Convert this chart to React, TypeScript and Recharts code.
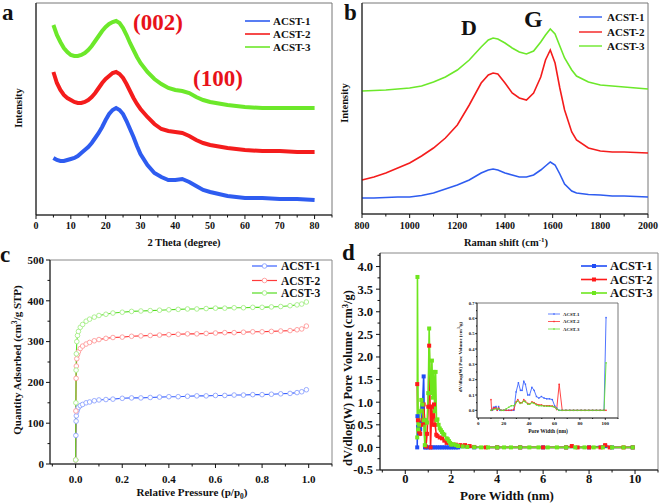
import React from 'react';
import { LineChart, Line, XAxis, YAxis, ReferenceArea } from 'recharts';

const W = 661;
const H = 503;
const FONT = '"Liberation Serif", "Times New Roman", serif';
const BLUE = '#2e5cf0';
const RED = '#f41c1c';
const GREEN = '#6ce82a';

// ---------- (a) XRD ----------
const xrdAngle = [5,6,7,8,9,10,11,12,13,14,15,16,17,18,19,20,21,22,23,24,25,26,27,28,29,30,32,34,36,38,40,42,44,46,48,50,55,60,65,70,75,80];
const xrd1 = [57,55,54,54,55,56,57,59,62,65,68,72,77,82,88,95,101,105,107,105,101,94,86,78,69,61,50,42,38,35,35,36,33,29,25,23,19,17,17,16,16,15];
const xrd2 = [143,132,125,120,117,115,113,112,112,113,115,118,122,127,132,136,139,142,143,141,137,131,124,117,111,106,98,91,86,84,83,82,79,75,72,70,67,65,64,64,63,63];
const xrd3 = [190,180,173,167,163,160,159,159,160,162,165,169,174,179,184,188,191,193,194,192,187,180,172,165,158,152,143,136,131,127,125,124,122,118,115,113,110,108,107,107,107,107];
const xrdTicks = [0,5,10,15,20,25,30,35,40,45,50,55,60,65,70,75,80,85];
const xrdMajor = [0,10,20,30,40,50,60,70,80];

// ---------- (b) Raman ----------
const ramanShift = [800,850,900,950,1000,1050,1100,1150,1200,1250,1300,1330,1350,1370,1400,1430,1460,1490,1520,1550,1570,1590,1610,1630,1650,1680,1700,1750,1800,1850,1900,1950,2000];
const raman1 = [16,16,16.5,17,17,18.5,21,25,29,34,41,44,45,44,41,39,37,37,39,44,48,52,49,40,30,23,21,19.5,19,18,18,17.5,17];
const raman2 = [34,37,41,46,51,58,66,76,89,109,131,139,141,140,131,121,116,114,121,137,154,164,151,126,104,82,74,66,63,62,62,61.5,61];
const raman3 = [123,123.5,124,125,126,128,132,137,144,154,167,174,176,175,171,166,162,160,163,172,179,185,180,168,156,144,138,132,129,128,127,126,125];
const ramanTicks = [800,900,1000,1100,1200,1300,1400,1500,1600,1700,1800,1900,2000];
const ramanMajor = [800,1000,1200,1400,1600,1800,2000];

// ---------- (c) N2 isotherms ----------
const pressure = [0.0003,0.001,0.002,0.003,0.005,0.008,0.012,0.02,0.03,0.045,0.06,0.08,0.1,0.13,0.16,0.2,0.24,0.28,0.32,0.36,0.4,0.44,0.48,0.52,0.56,0.6,0.64,0.68,0.72,0.76,0.8,0.84,0.88,0.92,0.95,0.97,0.99];
const iso1 = [10,70,105,118,128,134,139,143,146,150,152,155,157,158,159,161,162,162,163,164,165,165,166,167,167,168,168,169,169,170,170,171,172,173,175,177,182];
const iso2 = [10,130,210,240,258,268,275,283,289,294,298,302,305,308,310,311,313,314,315,316,317,318,319,319,320,321,322,322,323,324,324,325,326,327,329,331,338];
const iso3 = [10,150,230,270,300,315,325,335,342,350,355,360,364,367,370,372,374,375,376,377,378,379,380,380,381,382,382,383,383,384,384,385,386,388,390,392,397];
const pTicks = [-0.1,0,0.1,0.2,0.3,0.4,0.5,0.6,0.7,0.8,0.9,1.0,1.1];
const pMajor = [0,0.2,0.4,0.6,0.8,1.0];
const qTicks = [0,50,100,150,200,250,300,350,400,450,500];
const qMajor = [0,100,200,300,400,500];

// ---------- (d) pore size distribution ----------
const pw1 = [0.52,0.53,0.56,0.6,0.65,0.7,0.75,0.8,0.83,0.86,0.9,1.0,1.1,1.2,1.3,1.4,1.5,1.6,1.7,1.8,1.9,2.0,2.1,2.2,2.3,3.0,4.0,5.0,6.0,7.0,8.0,8.7,9.0,9.9];
const pv1 = [0,0.69,0.45,0.3,0.4,0.55,0.9,1.57,0.6,0,0,0,0,0,0,0,0,0,0,0,0,0,0,0,0,0,0,0,0,0,0,0.03,0,0];
const pw2 = [0.52,0.55,0.6,0.65,0.7,0.75,0.8,0.85,0.9,0.95,1.0,1.04,1.08,1.1,1.15,1.2,1.25,1.3,1.35,1.4,1.5,1.6,1.7,1.8,1.9,2.0,2.2,2.4,2.6,2.8,3.0,3.5,4.0,5.0,6.0,7.0,7.25,7.5,8.0,8.5,8.7,8.9,9.5,9.9];
const pv2 = [1.4,0.6,0.35,0.3,0.5,0.6,0.95,0.55,0.02,0.3,0.9,2.25,0.9,0,0.9,0.5,0.95,0.5,0.28,0.25,0.22,0.2,0.15,0.1,0.1,0.07,0.06,0.05,0.05,0.03,0.01,0,0,0,0,0,0.03,0,0,0,0.05,0,0,0];
const pw3 = [0.52,0.53,0.56,0.6,0.65,0.7,0.75,0.8,0.85,0.9,0.95,1.0,1.04,1.08,1.12,1.16,1.2,1.24,1.28,1.32,1.36,1.4,1.45,1.5,1.55,1.6,1.65,1.7,1.8,1.85,1.9,1.95,2.0,2.1,2.2,2.3,2.5,2.7,3.0,3.3,3.6,4.0,4.3,4.6,5.0,5.4,5.8,6.2,6.6,7.0,7.4,7.8,8.2,8.6,9.0,9.5,9.9];
const pv3 = [0.22,3.77,0.4,0.5,0.8,1.05,0.95,0.6,0.05,0.6,0.55,1.2,2.63,1.65,1.2,1.92,1.1,1.67,0.8,1.67,0.6,0.62,0.5,0.42,0.38,0.34,0.3,0.28,0.2,0.18,0.14,0.1,0.06,0.07,0.05,0.03,0.02,0.01,0.005,0,0,0,0,0,0,0,0,0,0,0,0,0,0,0,0,0,0];
const pwTicks = [-1,0,1,2,3,4,5,6,7,8,9,10,11];
const pwMajor = [0,2,4,6,8,10];
const pvTicks = [-0.5,-0.25,0,0.25,0.5,0.75,1,1.25,1.5,1.75,2,2.25,2.5,2.75,3,3.25,3.5,3.75,4,4.25];
const pvMajor = [-0.5,0,0.5,1,1.5,2,2.5,3,3.5,4];

// ---------- (d) inset ----------
const iw1 = [10,11,12,13,14,15,16,17,18,20,22,24,26,28,29.8,31.6,33.2,34.5,35.8,37.1,38.9,40.4,42.2,44,45.8,47.7,49.7,51.8,53.9,56,58.3,60.1,61.7,63.5,66,69,72,75,78,81,84,87,90,93,96,99,100.6];
const iv1 = [0,0,0.02,0.02,0.025,0,0.025,0,0,0,0,0,0,0,0.12,0.18,0.13,0.13,0.19,0.17,0.1,0.1,0.15,0.13,0.09,0.08,0.09,0.08,0.075,0.075,0.07,0.03,0.015,0,0,0,0,0,0,0,0,0,0,0,0,0,0.605];
const iw2 = [10,10.5,12,13,14,15,16,18,20,22,24,26,28,29.8,31.1,32.9,34.5,35.8,37.1,38.9,40.4,42.2,44,45.8,47.7,49.7,51.8,53.9,56,58.3,60.1,61.7,63.7,66.1,69,72,75,78,81,84,87,90,93,96,99,100.6];
const iv2 = [0.07,0,0.015,0.015,0.015,0,0.015,0,0,0,0,0,0.005,0.055,0.07,0.05,0.05,0.07,0.06,0.045,0.04,0.055,0.05,0.04,0.035,0.035,0.03,0.03,0.03,0.028,0.02,0.005,0.17,0,0,0,0,0,0,0,0,0,0,0,0,0];
const iw3 = [10,12,14,16,18,20,22,24,26,28,29.8,31.1,32.9,34.5,35.8,37.1,38.9,40.4,42.2,44,45.8,47.7,49.7,51.8,53.9,56,58.3,60.1,61.7,63.5,66,69,72,75,78,81,84,87,90,93,96,99,100.6];
const iv3 = [0,0.005,0.01,0.008,0,0,0.01,0.02,0.03,0.03,0.05,0.06,0.045,0.05,0.06,0.055,0.04,0.04,0.05,0.045,0.035,0.03,0.03,0.028,0.027,0.026,0.025,0.02,0.01,0,0,0,0,0,0,0,0,0,0,0,0,0,0.31];
const iwTicks = [0,10,20,30,40,50,60,70,80,90,100,110];
const iwMajor = [0,20,40,60,80,100];
const ivTicks = [0,0.05,0.1,0.15,0.2,0.25,0.3,0.35,0.4,0.45,0.5,0.55,0.6,0.65,0.7];
const ivMajor = [0,0.1,0.2,0.3,0.4,0.5,0.6,0.7];

const legendNames = ['ACST-1', 'ACST-2', 'ACST-3'];

const pairs = (xs: number[], ys: number[]) => xs.map((x, i) => ({ x, y: ys[i] }));

const isMajor = (arr: number[], v: number) => arr.some((m) => Math.abs(m - v) < 1e-6);

type TickOpt = { majors: number[]; len: number; minorLen: number; fs: number; off: number; fmt: (v: number) => string };

const xTick = (o: TickOpt) => (p: any) => {
  const v = p.payload.value;
  const maj = isMajor(o.majors, v);
  return (
    <g>
      <line x1={p.x} x2={p.x} y1={p.y} y2={p.y + (maj ? o.len : o.minorLen)} stroke="#111" strokeWidth={1} />
      {maj && (
        <text x={p.x} y={p.y + o.off} textAnchor="middle" fontSize={o.fs} fontWeight="bold" fontFamily={FONT} fill="#111">
          {o.fmt(v)}
        </text>
      )}
    </g>
  );
};

const yTick = (o: TickOpt) => (p: any) => {
  const v = p.payload.value;
  const maj = isMajor(o.majors, v);
  return (
    <g>
      <line x1={p.x} x2={p.x - (maj ? o.len : o.minorLen)} y1={p.y} y2={p.y} stroke="#111" strokeWidth={1} />
      {maj && (
        <text x={p.x - o.off} y={p.y} dy="0.35em" textAnchor="end" fontSize={o.fs} fontWeight="bold" fontFamily={FONT} fill="#111">
          {o.fmt(v)}
        </text>
      )}
    </g>
  );
};

const SquareDot = (p: any) => {
  if (p.cx == null || p.cy == null) return null;
  const s = p.size || 4;
  return <rect x={p.cx - s / 2} y={p.cy - s / 2} width={s} height={s} fill={p.color} />;
};

const margins = (x0: number, y0: number, x1: number, y1: number) => ({
  left: x0 - 1,
  top: y0,
  right: W - x1,
  bottom: H - y1 - 1,
});

const layer: React.CSSProperties = { position: 'absolute', left: 0, top: 0 };

function PanelA() {
  const d1 = pairs(xrdAngle, xrd1);
  const d2 = pairs(xrdAngle, xrd2);
  const d3 = pairs(xrdAngle, xrd3);
  return (
    <div style={layer}>
      <LineChart width={W} height={H} margin={margins(36, 3, 332, 215)}>
        <XAxis type="number" dataKey="x" domain={[0, 85]} ticks={xrdTicks} interval={0} height={1} tickSize={0} tickMargin={0}
          tickLine={false} axisLine={{ stroke: '#111' }} allowDataOverflow
          tick={xTick({ majors: xrdMajor, len: 4, minorLen: 2.5, fs: 10, off: 14, fmt: (v) => String(v) })} />
        <YAxis type="number" domain={[0, 212]} width={1} tick={false} tickLine={false} axisLine={{ stroke: '#111' }} />
        <ReferenceArea x1={0} x2={85} y1={0} y2={212} fill="none" stroke="#777" strokeWidth={1} />
        <Line data={d1} dataKey="y" stroke={BLUE} strokeWidth={4} dot={false} isAnimationActive={false} />
        <Line data={d2} dataKey="y" stroke={RED} strokeWidth={4} dot={false} isAnimationActive={false} />
        <Line data={d3} dataKey="y" stroke={GREEN} strokeWidth={4} dot={false} isAnimationActive={false} />
      </LineChart>
    </div>
  );
}

function PanelB() {
  const d1 = pairs(ramanShift, raman1);
  const d2 = pairs(ramanShift, raman2);
  const d3 = pairs(ramanShift, raman3);
  return (
    <div style={layer}>
      <LineChart width={W} height={H} margin={margins(362, 3, 648, 214)}>
        <XAxis type="number" dataKey="x" domain={[800, 2000]} ticks={ramanTicks} interval={0} height={1} tickSize={0} tickMargin={0}
          tickLine={false} axisLine={{ stroke: '#111' }}
          tick={xTick({ majors: ramanMajor, len: 4, minorLen: 2.5, fs: 10, off: 15, fmt: (v) => String(v) })} />
        <YAxis type="number" domain={[0, 211]} width={1} tick={false} tickLine={false} axisLine={{ stroke: '#111' }} />
        <ReferenceArea x1={800} x2={2000} y1={0} y2={211} fill="none" stroke="#777" strokeWidth={1} />
        <Line data={d1} dataKey="y" stroke={BLUE} strokeWidth={1.6} dot={false} isAnimationActive={false} />
        <Line data={d2} dataKey="y" stroke={RED} strokeWidth={1.6} dot={false} isAnimationActive={false} />
        <Line data={d3} dataKey="y" stroke={GREEN} strokeWidth={1.6} dot={false} isAnimationActive={false} />
      </LineChart>
    </div>
  );
}

function PanelC() {
  const d1 = pairs(pressure, iso1);
  const d2 = pairs(pressure, iso2);
  const d3 = pairs(pressure, iso3);
  const dot = (c: string) => ({ r: 2.3, stroke: c, strokeWidth: 0.9, fill: '#fff' });
  return (
    <div style={layer}>
      <LineChart width={W} height={H} margin={margins(50, 260, 332, 464)}>
        <XAxis type="number" dataKey="x" domain={[-0.11, 1.1]} ticks={pTicks} interval={0} height={1} tickSize={0} tickMargin={0}
          tickLine={false} axisLine={{ stroke: '#111' }} allowDataOverflow
          tick={xTick({ majors: pMajor, len: 4, minorLen: 2.5, fs: 11, off: 19, fmt: (v) => v.toFixed(1) })} />
        <YAxis type="number" domain={[0, 500]} ticks={qTicks} interval={0} width={1} tickSize={0} tickMargin={0}
          tickLine={false} axisLine={{ stroke: '#111' }}
          tick={yTick({ majors: qMajor, len: 4, minorLen: 2.5, fs: 11, off: 6, fmt: (v) => String(v) })} />
        <ReferenceArea x1={-0.11} x2={1.1} y1={0} y2={500} fill="none" stroke="#888" strokeWidth={1} />
        <Line data={d1} dataKey="y" stroke="#3a62ff" strokeWidth={1.1} dot={dot('#8ea4ff')} isAnimationActive={false} />
        <Line data={d2} dataKey="y" stroke="#ff3a3a" strokeWidth={1.1} dot={dot('#ff9a9a')} isAnimationActive={false} />
        <Line data={d3} dataKey="y" stroke="#55dd22" strokeWidth={1.1} dot={dot('#a6ee88')} isAnimationActive={false} />
      </LineChart>
    </div>
  );
}

function PanelD() {
  const d1 = pairs(pw1, pv1);
  const d2 = pairs(pw2, pv2);
  const d3 = pairs(pw3, pv3);
  return (
    <div style={layer}>
      <LineChart width={W} height={H} margin={margins(380, 253, 658, 470)}>
        <XAxis type="number" dataKey="x" domain={[-1.1, 11]} ticks={pwTicks} interval={0} height={1} tickSize={0} tickMargin={0}
          tickLine={false} axisLine={{ stroke: '#111' }} allowDataOverflow
          tick={xTick({ majors: pwMajor, len: 4, minorLen: 2.5, fs: 12.5, off: 13, fmt: (v) => String(v) })} />
        <YAxis type="number" domain={[-0.5, 4.3]} ticks={pvTicks} interval={0} width={1} tickSize={0} tickMargin={0}
          tickLine={false} axisLine={{ stroke: '#111' }} allowDataOverflow
          tick={yTick({ majors: pvMajor, len: 4, minorLen: 2.5, fs: 12.5, off: 7, fmt: (v) => v.toFixed(1) })} />
        <ReferenceArea x1={-1.1} x2={11} y1={-0.5} y2={4.3} fill="none" stroke="#888" strokeWidth={1} />
        <Line data={d1} dataKey="y" stroke="#1f4cf5" strokeWidth={1.6} dot={<SquareDot color="#1f4cf5" size={4} />} isAnimationActive={false} />
        <Line data={d2} dataKey="y" stroke="#ff1a1a" strokeWidth={1.6} dot={<SquareDot color="#ff1a1a" size={4} />} isAnimationActive={false} />
        <Line data={d3} dataKey="y" stroke="#6ee61e" strokeWidth={1.6} dot={<SquareDot color="#6ee61e" size={4} />} isAnimationActive={false} />
      </LineChart>
    </div>
  );
}

function Inset() {
  const d1 = pairs(iw1, iv1);
  const d2 = pairs(iw2, iv2);
  const d3 = pairs(iw3, iv3);
  return (
    <div style={layer}>
      <LineChart width={W} height={H} margin={margins(477, 303, 618, 418)}>
        <XAxis type="number" dataKey="x" domain={[-1, 110]} ticks={iwTicks} interval={0} height={1} tickSize={0} tickMargin={0}
          tickLine={false} axisLine={{ stroke: '#333', strokeWidth: 0.8 }} allowDataOverflow
          tick={xTick({ majors: iwMajor, len: 1.8, minorLen: 1, fs: 5, off: 6.5, fmt: (v) => String(v) })} />
        <YAxis type="number" domain={[-0.05, 0.7]} ticks={ivTicks} interval={0} width={1} tickSize={0} tickMargin={0}
          tickLine={false} axisLine={{ stroke: '#333', strokeWidth: 0.8 }} allowDataOverflow
          tick={yTick({ majors: ivMajor, len: 1.8, minorLen: 1, fs: 4.6, off: 2.5, fmt: (v) => v.toFixed(1) })} />
        <ReferenceArea x1={-1} x2={110} y1={-0.05} y2={0.7} fill="none" stroke="#555" strokeWidth={0.8} />
        <Line data={d1} dataKey="y" stroke="#3c64ff" strokeWidth={0.9} dot={<SquareDot color="#3c64ff" size={1.4} />} isAnimationActive={false} />
        <Line data={d2} dataKey="y" stroke="#ff3030" strokeWidth={0.9} dot={<SquareDot color="#ff3030" size={1.4} />} isAnimationActive={false} />
        <Line data={d3} dataKey="y" stroke="#66e030" strokeWidth={0.9} dot={<SquareDot color="#66e030" size={1.4} />} isAnimationActive={false} />
      </LineChart>
    </div>
  );
}

type LegendProps = { x1: number; x2: number; tx: number; ys: number[]; fs: number; colors: string[]; sw: number; marker?: 'circle' | 'square'; ms?: number; mcolors?: string[] };

function Legend(p: LegendProps) {
  return (
    <g>
      {legendNames.map((n, i) => {
        const y = p.ys[i];
        const mx = (p.x1 + p.x2) / 2;
        const ms = p.ms || 3;
        return (
          <g key={n}>
            <line x1={p.x1} x2={p.x2} y1={y} y2={y} stroke={p.colors[i]} strokeWidth={p.sw} />
            {p.marker === 'circle' && <circle cx={mx} cy={y} r={ms} fill="#fff" stroke={(p.mcolors || p.colors)[i]} strokeWidth={0.9} />}
            {p.marker === 'square' && <rect x={mx - ms / 2} y={y - ms / 2} width={ms} height={ms} fill={p.colors[i]} />}
            <text x={p.tx} y={y} dy="0.35em" fontSize={p.fs} fontWeight="bold" fontFamily={FONT} fill="#111">{n}</text>
          </g>
        );
      })}
    </g>
  );
}

function Overlay() {
  const bold = { fontWeight: 'bold' as const, fontFamily: FONT, fill: '#111' };
  return (
    <svg width={W} height={H} style={{ ...layer, overflow: 'visible' }}>
      {/* panel letters */}
      <text x={2} y={20} fontSize={23} {...bold}>a</text>
      <text x={344} y={20} fontSize={23} {...bold}>b</text>
      <text x={0} y={262} fontSize={23} {...bold}>c</text>
      <text x={342} y={260} fontSize={23} {...bold}>d</text>

      {/* annotations */}
      <text x={133} y={30} fontSize={23} fontWeight="bold" fontFamily={FONT} fill="#e8121a">(002)</text>
      <text x={193} y={86} fontSize={23} fontWeight="bold" fontFamily={FONT} fill="#e8121a">(100)</text>
      <text x={461} y={35} fontSize={22} {...bold}>D</text>
      <text x={524} y={27} fontSize={24} {...bold}>G</text>

      {/* axis titles */}
      <text x={184} y={246} textAnchor="middle" fontSize={10.5} {...bold}>2 Theta (degree)</text>
      <text transform="translate(22,108) rotate(-90)" textAnchor="middle" fontSize={10.5} {...bold}>Intensity</text>
      <text x={506} y={246} textAnchor="middle" fontSize={10.5} {...bold}>
        Raman shift (cm<tspan dy={-4} fontSize={7}>-1</tspan><tspan dy={4}>)</tspan>
      </text>
      <text transform="translate(348,103) rotate(-90)" textAnchor="middle" fontSize={10.5} {...bold}>Intensity</text>

      <text x={192} y={496} textAnchor="middle" fontSize={11} {...bold}>
        Relative Pressure (p/p<tspan dy={3} fontSize={7.5}>0</tspan><tspan dy={-3}>)</tspan>
      </text>
      <text transform="translate(21,360) rotate(-90)" textAnchor="middle" fontSize={11} {...bold}>
        Quantity Adsorbed (cm<tspan dy={-4} fontSize={7.5}>3</tspan><tspan dy={4}>/g STP)</tspan>
      </text>

      <text x={507} y={500} textAnchor="middle" fontSize={13} {...bold}>Pore Width (nm)</text>
      <text transform="translate(352,378) rotate(-90)" textAnchor="middle" fontSize={12.5} {...bold}>
        dV/dlog(W) Pore Volume (cm<tspan dy={-4.5} fontSize={8.5}>3</tspan><tspan dy={4.5}>/g)</tspan>
      </text>

      {/* inset titles */}
      <text x={548} y={433} textAnchor="middle" fontSize={5.5} {...bold}>Pore Width (nm)</text>
      <text transform="translate(462,357) rotate(-90)" textAnchor="middle" fontSize={5} {...bold}>
        dV/dlog(W) Pore Volume (cm<tspan dy={-1.8} fontSize={3.5}>3</tspan><tspan dy={1.8}>/g)</tspan>
      </text>

      {/* legends */}
      <Legend x1={245} x2={270} tx={273} ys={[21, 34, 47]} fs={11} colors={[BLUE, RED, GREEN]} sw={1.6} />
      <Legend x1={579} x2={602} tx={607} ys={[17, 32, 46]} fs={11} colors={[BLUE, RED, GREEN]} sw={1.4} />
      <Legend x1={252} x2={277} tx={281} ys={[266, 280.5, 293]} fs={11.5} colors={['#3a62ff', '#ff3a3a', '#55dd22']}
        mcolors={['#8ea4ff', '#ff9a9a', '#a6ee88']} sw={1.2} marker="circle" ms={2.3} />
      <Legend x1={581} x2={607} tx={610} ys={[266, 279.5, 293]} fs={12.5} colors={['#1f4cf5', '#ff1a1a', '#6ee61e']} sw={1.6} marker="square" ms={4} />
      <Legend x1={548} x2={560} tx={563} ys={[314, 321.5, 329]} fs={4.8} colors={['#3c64ff', '#ff3030', '#66e030']} sw={0.8} marker="square" ms={1.4} />
    </svg>
  );
}

export default function App() {
  return (
    <div style={{ position: 'absolute', left: 0, top: 0, width: W, height: H, background: '#fff', overflow: 'hidden' }}>
      <PanelA />
      <PanelB />
      <PanelC />
      <PanelD />
      <Inset />
      <Overlay />
    </div>
  );
}
